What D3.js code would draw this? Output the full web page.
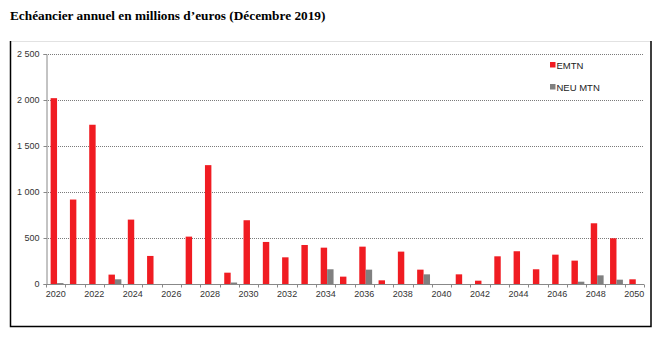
<!DOCTYPE html>
<html>
<head>
<meta charset="utf-8">
<script src="https://cdn.jsdelivr.net/npm/d3@7"></script>
<style>
  html, body { margin: 0; padding: 0; background: #fff; }
  svg { display: block; }
</style>
</head>
<body>
<svg id="chart" width="661" height="337"></svg>
<script>
// Annual maturity schedule, millions of euros
const years = d3.range(2020, 2051);
const seriesNames = ["EMTN", "NEU MTN"];
const emtn = [2020, 918, 1731, 102, 700, 305, 0, 515, 1292, 123,
              693, 457, 290, 424, 395, 80, 406, 40, 352, 156,
              0, 105, 36, 301, 356, 160, 319, 254, 660, 497, 51];
const neuMtn = [10, 0, 0, 51, 0, 0, 0, 0, 0, 16,
                0, 0, 0, 0, 160, 0, 156, 0, 0, 105,
                0, 0, 0, 0, 0, 0, 0, 25, 94, 47, 0];
const yTicks = [0, 500, 1000, 1500, 2000, 2500];
const colors = ["#f01c22", "#808080"];

const svg = d3.select("#chart");

// Title
svg.append("text")
  .attr("x", 10).attr("y", 20)
  .attr("font-family", "'Liberation Serif', 'Times New Roman', serif")
  .attr("font-weight", "bold")
  .attr("font-size", 13.3)
  .attr("fill", "#000")
  .text("Echéancier annuel en millions d’euros (Décembre 2019)");

// Frame
svg.append("line").attr("x1", 10).attr("x2", 651).attr("y1", 41.5).attr("y2", 41.5)
  .attr("stroke", "#e2e2e2").attr("stroke-width", 1);
svg.append("path")
  .attr("d", "M10.5,41 V326.5 H651 V41")
  .attr("fill", "none").attr("stroke", "#000").attr("stroke-width", 1.5);

const x0 = d3.scaleBand().domain(years).range([46, 644]).padding(0);
const x1 = d3.scaleBand().domain(seriesNames).range([0, x0.bandwidth()])
  .paddingInner(0).paddingOuter(0.5).align(0.72);
const y = d3.scaleLinear().domain([0, 2500]).range([284, 54]);

const font = "'Liberation Sans', Arial, sans-serif";

// Gridlines
svg.append("g").selectAll("line")
  .data(yTicks.filter(d => d > 0))
  .join("line")
  .attr("x1", 46).attr("x2", 644)
  .attr("y1", d => Math.round(y(d)) + 0.5).attr("y2", d => Math.round(y(d)) + 0.5)
  .attr("stroke", "#7a7a7a").attr("stroke-width", 1)
  .attr("stroke-dasharray", "1,1");

// Bars
const data = years.map((yr, i) => ({ year: yr, values: [emtn[i], neuMtn[i]] }));
const groups = svg.append("g").selectAll("g")
  .data(data).join("g")
  .attr("transform", d => `translate(${x0(d.year)},0)`);
groups.selectAll("rect")
  .data(d => d.values.map((v, j) => ({ key: seriesNames[j], v, j })).filter(e => e.v > 0))
  .join("rect")
  .attr("x", e => x1(e.key))
  .attr("width", x1.bandwidth())
  .attr("y", e => y(e.v))
  .attr("height", e => y(0) - y(e.v))
  .attr("fill", e => colors[e.j]);

// Y axis
const yAxis = d3.axisLeft(y).tickValues(yTicks).tickSize(3).tickPadding(4)
  .tickFormat(d => d3.format(",")(d).replace(/,/g, " "));
const gy = svg.append("g").attr("transform", "translate(46.5,0)").call(yAxis);
gy.select(".domain").attr("stroke", "#888");
gy.selectAll(".tick line").attr("stroke", "#888");
gy.selectAll(".tick text").attr("font-family", font).attr("font-size", 9).attr("fill", "#333");

// X axis: ticks at category boundaries, labels on every other year
const gx = svg.append("g").attr("transform", "translate(0,284.5)");
gx.append("line").attr("x1", 46).attr("x2", 644).attr("stroke", "#888");
gx.selectAll("line.tk")
  .data(years.concat([2051]))
  .join("line").attr("class", "tk")
  .attr("x1", d => Math.round(46 + (d - 2020) * x0.step()) + 0.5)
  .attr("x2", d => Math.round(46 + (d - 2020) * x0.step()) + 0.5)
  .attr("y1", 0).attr("y2", 3)
  .attr("stroke", "#888");
gx.selectAll("text")
  .data(years.filter(d => d % 2 === 0))
  .join("text")
  .attr("x", d => x0(d) + x0.bandwidth() / 2)
  .attr("y", 12)
  .attr("text-anchor", "middle")
  .attr("font-family", font).attr("font-size", 9).attr("fill", "#333")
  .text(d => d);

// Legend
const legend = svg.append("g").selectAll("g")
  .data(seriesNames).join("g")
  .attr("transform", (d, i) => `translate(550,${65 + i * 22})`);
legend.append("rect")
  .attr("x", 0).attr("y", -3).attr("width", 5.5).attr("height", 5.5)
  .attr("fill", (d, i) => colors[i]);
legend.append("text")
  .attr("x", 6.5).attr("y", 3.5)
  .attr("font-family", font).attr("font-size", 9.5).attr("fill", "#222")
  .text(d => d);
</script>
</body>
</html>
